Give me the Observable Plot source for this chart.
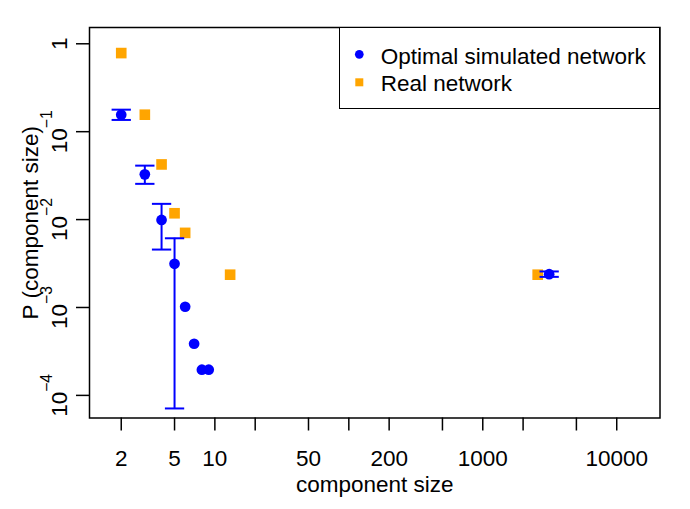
<!DOCTYPE html>
<html>
<head>
<meta charset="utf-8">
<script src="https://cdn.jsdelivr.net/npm/d3@7"></script>
<script src="https://cdn.jsdelivr.net/npm/@observablehq/plot@0.6"></script>
<style>
  html, body { margin: 0; padding: 0; background: #fff; }
  #wrap { position: relative; width: 690px; height: 509px; font-family: "Liberation Sans", Arial, Helvetica, sans-serif; }
  #legend { position: absolute; left: 339px; top: 27px; width: 321px; height: 82px; box-sizing: border-box;
            border: 1.5px solid #000; background: #fff; }
  #legend svg { position: absolute; left: -1.5px; top: -1.5px; }
</style>
</head>
<body>
<div id="wrap"></div>
<script>
// Component-size distribution, log-log
const xTicks = [2, 5, 10, 20, 50, 100, 200, 500, 1000, 2000, 5000, 10000];
const xTickLabels = [2, 5, 10, 50, 200, 1000, 10000];
const yTicks = [1, 0.1, 0.01, 0.001, 0.0001];
const yTickExponents = [0, -1, -2, -3, -4];

// Optimal simulated network: mean probability per component size
const simSize = [2, 3, 4, 5, 6, 7, 8, 9, 3130];
const simP = [0.156, 0.0327, 0.0099, 0.00314, 0.00102, 0.000387, 0.000196, 0.000196, 0.00239];

// Spread of the simulations (error bars)
const errSize = [2, 3, 4, 5, 3130];
const errLow = [0.136, 0.0255, 0.00456, 0.000071, 0.00223];
const errHigh = [0.178, 0.0411, 0.0151, 0.00613, 0.00257];

// Real network
const realSize = [2, 3, 4, 5, 6, 13, 2570];
const realP = [0.784, 0.156, 0.0424, 0.0118, 0.00706, 0.00236, 0.00236];

const seriesNames = ["Optimal simulated network", "Real network"];
const blue = "#0000ff";
const orange = "#ffa500";

const sim = simSize.map((s, i) => ({size: s, p: simP[i]}));
const err = errSize.map((s, i) => ({size: s, lo: errLow[i], hi: errHigh[i]}));
const real = realSize.map((s, i) => ({size: s, p: realP[i]}));
const yLabelled = yTicks.map((t, i) => ({t, e: yTickExponents[i]}));

const fs = 22.5;      // main text size
const fsExp = 15.75;  // superscript size
// along-axis extent of "10" + exponent, used to centre the label on its tick
const baseW = 2 * 0.556 * fs;
const expW = (0.584 + 0.556) * fsExp;
const half = (baseW + expW) / 2;

// horizontal whisker cap for error bars
const cap = {draw(ctx) { ctx.moveTo(-9.65, 0); ctx.lineTo(9.65, 0); }};

const chart = Plot.plot({
  width: 690,
  height: 509,
  marginLeft: 89,
  marginRight: 30.5,
  marginTop: 27,
  marginBottom: 91.5,
  style: {fontFamily: "Liberation Sans, Arial, Helvetica, sans-serif", fontSize: fs + "px", color: "#000", background: "#fff"},
  x: {type: "log", domain: [1.159, 21040]},
  y: {type: "log", domain: [5.53e-5, 1.532]},
  marks: [
    Plot.axisX({ticks: xTicks, tickSize: 13, strokeWidth: 1.5, label: null, tickFormat: () => ""}),
    Plot.axisY({ticks: yTicks, tickSize: 13, strokeWidth: 1.5, label: null, tickFormat: () => ""}),
    // x tick labels (only some ticks are labelled)
    Plot.text(xTickLabels, {x: d => d, text: d => String(d), frameAnchor: "bottom",
      textAnchor: "middle", lineAnchor: "bottom", dy: 47.8, fontSize: fs}),
    // y tick labels: "1" and 10^k with a raised exponent, rotated along the axis
    Plot.text(yLabelled.filter(d => d.e === 0), {y: "t", text: () => "1", frameAnchor: "left",
      rotate: -90, textAnchor: "middle", lineAnchor: "bottom", dx: -22.7, fontSize: fs}),
    Plot.text(yLabelled.filter(d => d.e !== 0), {y: "t", text: () => "10", frameAnchor: "left",
      rotate: -90, textAnchor: "start", lineAnchor: "bottom", dx: -22.7, dy: half, fontSize: fs}),
    Plot.text(yLabelled.filter(d => d.e !== 0), {y: "t", text: d => "\u2212" + Math.abs(d.e), frameAnchor: "left",
      rotate: -90, textAnchor: "start", lineAnchor: "bottom", dx: -37.4, dy: half - baseW, fontSize: fsExp}),
    // axis titles
    Plot.text(["component size"], {frameAnchor: "bottom", textAnchor: "middle", lineAnchor: "bottom", dy: 73.5, fontSize: fs}),
    Plot.text(["P (component size)"], {frameAnchor: "left", rotate: -90, textAnchor: "middle", lineAnchor: "middle", dx: -58.5, fontSize: fs}),
    // data
    Plot.dot(real, {x: "size", y: "p", symbol: "square", r: 6, fill: orange}),
    Plot.ruleX(err, {x: "size", y1: "lo", y2: "hi", stroke: blue, strokeWidth: 2}),
    Plot.dot(err, {x: "size", y: "lo", symbol: cap, r: 3, fill: "none", stroke: blue, strokeWidth: 2}),
    Plot.dot(err, {x: "size", y: "hi", symbol: cap, r: 3, fill: "none", stroke: blue, strokeWidth: 2}),
    Plot.dot(sim, {x: "size", y: "p", r: 5.35, fill: blue}),
    Plot.frame({stroke: "#000", strokeWidth: 1.5})
  ]
});

const wrap = document.getElementById("wrap");
wrap.appendChild(chart);

// boxed legend in the top-right corner of the panel
const legend = document.createElement("div");
legend.id = "legend";
wrap.appendChild(legend);
const ls = d3.select(legend).append("svg").attr("width", 321).attr("height", 82)
  .style("font-family", "Liberation Sans, Arial, Helvetica, sans-serif").style("font-size", fs + "px");
ls.append("circle").attr("cx", 20.3).attr("cy", 27.3).attr("r", 4.35).attr("fill", blue);
ls.append("rect").attr("x", 16.3).attr("y", 51.3).attr("width", 8).attr("height", 8).attr("fill", orange);
ls.append("text").attr("x", 41.7).attr("y", 37).text(seriesNames[0]);
ls.append("text").attr("x", 41.7).attr("y", 64).text(seriesNames[1]);
</script>
</body>
</html>
